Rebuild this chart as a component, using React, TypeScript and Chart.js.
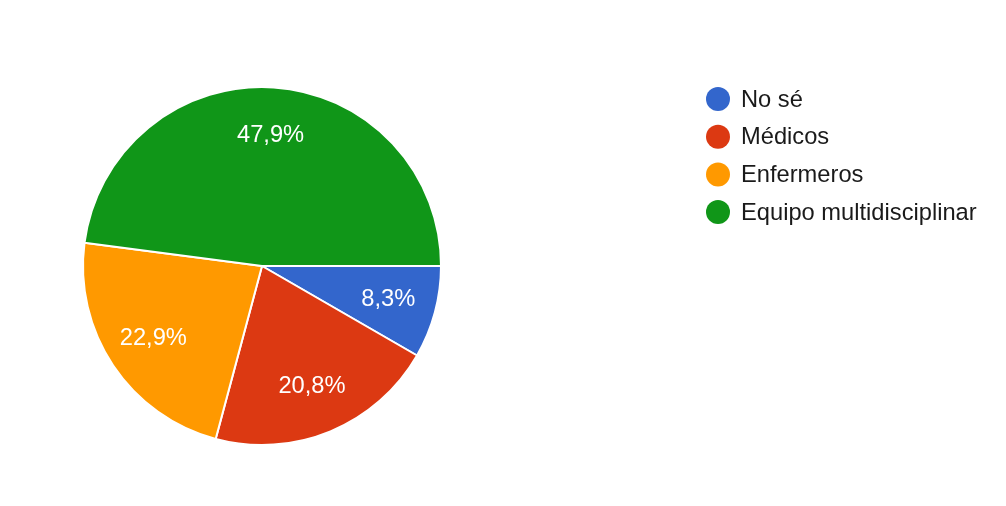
import React, { useEffect, useRef } from "react";
import { Chart, registerables } from "chart.js";

Chart.register(...registerables);

const categories = ["No sé", "Médicos", "Enfermeros", "Equipo multidisciplinar"];
const counts = [4, 10, 11, 23];
const colors = ["#3366cc", "#dc3912", "#ff9900", "#109618"];

const FONT = "'Liberation Sans', Arial, sans-serif";

const fmtPct = (v: number, total: number) =>
  ((v / total) * 100).toFixed(1).replace(".", ",") + "%";

const overlayPlugin = {
  id: "overlay",
  afterDatasetsDraw(chart: any) {
    const ctx = chart.ctx;
    const meta = chart.getDatasetMeta(0);
    const data = chart.data.datasets[0].data as number[];
    const total = data.reduce((a, b) => a + b, 0);
    ctx.save();
    ctx.fillStyle = "#ffffff";
    ctx.font = `23.7px ${FONT}`;
    ctx.textAlign = "center";
    ctx.textBaseline = "middle";
    meta.data.forEach((arc: any, i: number) => {
      const { x, y, startAngle, endAngle, outerRadius } = arc.getProps(
        ["x", "y", "startAngle", "endAngle", "outerRadius"],
        true
      );
      const mid = (startAngle + endAngle) / 2;
      const d = outerRadius * 0.73;
      ctx.fillText(fmtPct(data[i], total), x + Math.cos(mid) * d, y + Math.sin(mid) * d);
    });
    // legend
    const lx = 718;
    const ly0 = 99;
    const step = 37.7;
    chart.data.labels.forEach((lab: string, i: number) => {
      const cy = ly0 + i * step;
      ctx.beginPath();
      ctx.fillStyle = colors[i];
      ctx.arc(lx, cy, 12, 0, Math.PI * 2);
      ctx.fill();
      ctx.fillStyle = "#1a1a1a";
      ctx.textAlign = "left";
      ctx.font = `23.7px ${FONT}`;
      ctx.fillText(lab, 741, cy + 1);
    });
    ctx.restore();
  },
};

export default function App() {
  const ref = useRef<HTMLCanvasElement | null>(null);
  useEffect(() => {
    if (!ref.current) return;
    const chart = new Chart(ref.current, {
      type: "pie",
      data: {
        labels: categories,
        datasets: [
          {
            data: counts,
            backgroundColor: colors,
            borderColor: "#ffffff",
            borderWidth: 2,
            hoverOffset: 0,
          },
        ],
      },
      options: {
        responsive: false,
        animation: false,
        rotation: 90,
        layout: { padding: { left: 82, right: 564, top: 86, bottom: 60 } },
        plugins: {
          legend: { display: false },
          tooltip: { enabled: false },
        },
      },
      plugins: [overlayPlugin],
    });
    return () => chart.destroy();
  }, []);
  return (
    <div style={{ position: "absolute", left: 0, top: 0, width: 1006, height: 506, background: "#fff" }}>
      <canvas ref={ref} width={1006} height={506} style={{ width: 1006, height: 506 }} />
    </div>
  );
}
